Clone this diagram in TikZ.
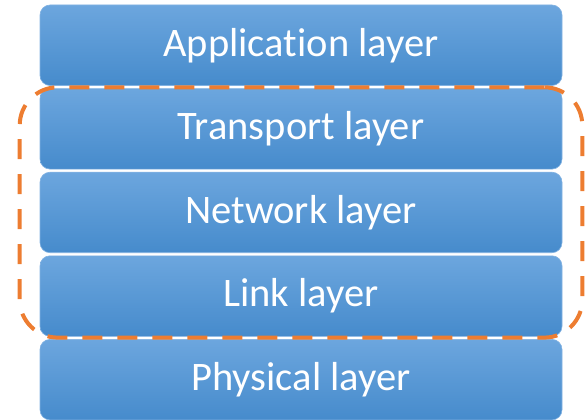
\documentclass[tikz,border=0pt]{standalone}
\usepackage{fontspec}
\setmainfont{Carlito}[Ligatures=NoCommon]
\usetikzlibrary{positioning,fit}

\definecolor{layertop}{RGB}{108,166,222}
\definecolor{layerbot}{RGB}{70,139,204}
\definecolor{layeredge}{RGB}{130,178,226}
\definecolor{groupline}{RGB}{237,125,49}

\begin{document}
\begin{tikzpicture}[node distance=2.5pt, x=1pt, y=1pt,
    layer/.style={rectangle, draw=layeredge, line width=0.6pt,
    top color=layertop, bottom color=layerbot, rounded corners=10pt,
    minimum width=522pt, minimum height=80.5pt, text=white,
    font=\fontsize{40.5}{46}\selectfont},
    group/.style={draw=groupline, line width=4pt, dash pattern=on 20pt off 15pt,
    rounded corners=38pt, inner xsep=20pt, inner ysep=1pt}]

\useasboundingbox (0,0) rectangle (586,-420);

\node [layer] (app) at (301,-45.25) {Application layer};
\node [layer, below=of app] (transport) {Transport layer};
\node [layer, below=of transport] (network) {Network layer};
\node [layer, below=of network] (link) {Link layer};
\node [layer, below=of link] (phys) {Physical layer};

% dashed frame round the middle layers
\node [group, fit=(transport)(link)] (middle) {};
\end{tikzpicture}
\end{document}
